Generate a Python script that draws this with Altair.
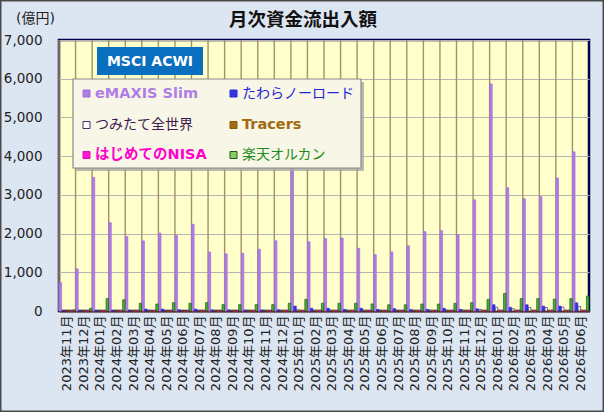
import altair as alt
import pandas as pd

months = [
    "2023年11月", "2023年12月", "2024年01月", "2024年02月", "2024年03月", "2024年04月",
    "2024年05月", "2024年06月", "2024年07月", "2024年08月", "2024年09月", "2024年10月",
    "2024年11月", "2024年12月", "2025年01月", "2025年02月", "2025年03月", "2025年04月",
    "2025年05月", "2025年06月", "2025年07月", "2025年08月", "2025年09月", "2025年10月",
    "2025年11月", "2025年12月", "2026年01月", "2026年02月", "2026年03月", "2026年04月",
    "2026年05月", "2026年06月",
]

series = ["eMAXIS Slim", "たわらノーロード", "つみたて全世界", "Tracers", "はじめてのNISA", "楽天オルカン"]

emaxis = [730, 1090, 3450, 2280, 1920, 1810, 2010, 1950, 2240, 1525, 1475, 1490, 1595, 1815, 3900, 1790,
          1870, 1885, 1620, 1455, 1525, 1685, 2050, 2075, 1970, 2870, 5865, 3185, 2900, 2955, 3435, 4110]
tawara = [10, 10, 15, 15, 20, 50, 50, 30, 50, 25, 25, 20, 25, 30, 125, 70,
          70, 40, 70, 40, 60, 35, 40, 70, 40, 55, 160, 95, 160, 125, 125, 210]
tsumitate = [5, 5, 10, 10, 10, 15, 15, 10, 15, 10, 10, 10, 10, 15, 30, 20,
             20, 15, 20, 15, 15, 15, 20, 20, 20, 40, 95, 60, 90, 90, 100, 120]
tracers = [0, 0, 0, 0, 0, 0, 0, 0, 0, 0, 0, 5, 10, 10, 15, 10,
           10, 10, 10, 10, 10, 10, 10, 10, 10, 15, 20, 15, 15, 15, 15, 20]
hajimete = [5, 5, 15, 10, 8, 8, 8, 8, 8, 6, 6, 6, 6, 6, 10, 6,
            6, 6, 6, 5, 5, 5, 5, 5, 5, 6, 10, 6, 6, 6, 6, 8]
rakuten = [30, 70, 320, 290, 200, 180, 215, 200, 215, 165, 165, 165, 165, 200, 300, 200,
           200, 200, 183, 160, 160, 180, 180, 195, 215, 300, 455, 320, 320, 305, 320, 385]

y_ticks = [0, 1000, 2000, 3000, 4000, 5000, 6000, 7000]

# styles
bar_fills = ["#b07de8", "#3434e6", "#ffffff", "#a36c12", "#ff14d2", "#4cae3c"]
bar_strokes = ["#a36cdc", "#2a2ad0", "#4a2a6a", "#8a5a0a", "#e010b8", "#1d5c14"]
legend_fills = ["#b07de8", "#3434e6", "#ffffff", "#a36c12", "#ff14d2", "#86cc66"]
text_colors = ["#b07de8", "#2424d8", "#3a1a50", "#a06a10", "#ff00cc", "#1a8a1a"]
text_weights = ["bold", "normal", "normal", "bold", "bold", "normal"]

FONT = "DejaVu Sans, Noto Sans CJK JP"
W, H = 530, 271

values = [emaxis, tawara, tsumitate, tracers, hajimete, rakuten]
rows = []
for s, vals in zip(series, values):
    for m, v in zip(months, vals):
        rows.append({"month": m, "series": s, "value": v})
df = pd.DataFrame(rows)

x_axis = alt.Axis(
    title=None, labelAngle=270, labelFontSize=13, labelFont=FONT, labelColor="#222222",
    labelPadding=4, ticks=False, domain=True, domainColor="#5c2a1c", domainWidth=2,
    grid=False, labelOverlap=False,
)
x_enc = alt.X("month:N", sort=months, scale=alt.Scale(paddingInner=0, paddingOuter=0), axis=x_axis)

vgrid = alt.Chart(pd.DataFrame({"month": months})).mark_rule(
    color="#a3916a", strokeWidth=1.4
).encode(
    x=alt.X("month:N", sort=months, scale=alt.Scale(paddingInner=0, paddingOuter=0),
            axis=x_axis, bandPosition=0),
    y=alt.value(0),
    y2=alt.value(H),
)

bars = alt.Chart(df).mark_bar(strokeWidth=0.7).encode(
    x=x_enc,
    xOffset=alt.XOffset("series:N", sort=series,
                        scale=alt.Scale(domain=series, paddingInner=0.12, paddingOuter=0.06)),
    y=alt.Y("value:Q",
            scale=alt.Scale(domain=[0, 7000], nice=False),
            axis=alt.Axis(title=None, values=y_ticks, format=",d", labelFontSize=13.5,
                          labelFont=FONT, labelColor="#222222", ticks=False, domain=False,
                          labelPadding=17, grid=True, gridColor="#b4b4b4", gridWidth=1)),
    fill=alt.Fill("series:N", scale=alt.Scale(domain=series, range=bar_fills), legend=None),
    stroke=alt.Stroke("series:N", scale=alt.Scale(domain=series, range=bar_strokes), legend=None),
)

one = pd.DataFrame({"a": [0]})
base = alt.Chart(one)

layers = [vgrid, bars]

# legend box with shadow
layers.append(base.mark_rect(fill="#a8a8a8", opacity=0.8).encode(
    x=alt.value(17), x2=alt.value(305), y=alt.value(42), y2=alt.value(131)))
layers.append(base.mark_rect(fill="#f8f6e6", stroke="#8a8a8a", strokeWidth=1.2).encode(
    x=alt.value(14), x2=alt.value(302), y=alt.value(39), y2=alt.value(128)))

# MSCI ACWI badge
layers.append(base.mark_rect(fill="#0a6fbe").encode(
    x=alt.value(38), x2=alt.value(144), y=alt.value(7), y2=alt.value(35)))
layers.append(base.mark_text(text="MSCI ACWI", font=FONT, fontSize=14, fontWeight="bold",
                             color="#ffffff", align="center", baseline="middle").encode(
    x=alt.value(91), y=alt.value(21.5)))

col_sq = [27.5, 174.5]
col_tx = [36, 183]
row_y = [53.5, 85, 115]
for i, s in enumerate(series):
    c, r = i % 2, i // 2
    sx, sy = col_sq[c], row_y[r]
    layers.append(base.mark_rect(fill=legend_fills[i], stroke=bar_strokes[i], strokeWidth=1).encode(
        x=alt.value(sx - 3.5), x2=alt.value(sx + 3.5), y=alt.value(sy - 3.5), y2=alt.value(sy + 3.5)))
    layers.append(base.mark_text(text=s, font=FONT, fontSize=14.5 if text_weights[i] == "bold" else 14,
                                 fontWeight=text_weights[i], color=text_colors[i],
                                 align="left", baseline="middle").encode(
        x=alt.value(col_tx[c]), y=alt.value(sy)))

# title and unit
layers.append(base.mark_text(text="月次資金流出入額", font=FONT, fontSize=18.5, fontWeight="bold",
                             color="#111111", align="center", baseline="middle").encode(
    x=alt.value(244), y=alt.value(-20)))
layers.append(base.mark_text(text="(億円)", font=FONT, fontSize=14, color="#222222",
                             align="left", baseline="middle").encode(
    x=alt.value(-43), y=alt.value(-21)))

# outer frame
layers.append(base.mark_rect(fillOpacity=0, stroke="#4a4a4a", strokeWidth=1.5).encode(
    x=alt.value(-58.25), x2=alt.value(544.25), y=alt.value(-39.25), y2=alt.value(371.25)))

chart = alt.layer(*layers).properties(
    width=W, height=H,
    autosize=alt.AutoSizeParams(type="none"),
    padding={"left": 59, "top": 40, "right": 15, "bottom": 101},
    background="#dce6f2",
).configure_view(
    fill="#ffffcc", stroke="#000050", strokeWidth=2.5
)

chart.save("out.html", embed_options={"renderer": "svg", "actions": False})
